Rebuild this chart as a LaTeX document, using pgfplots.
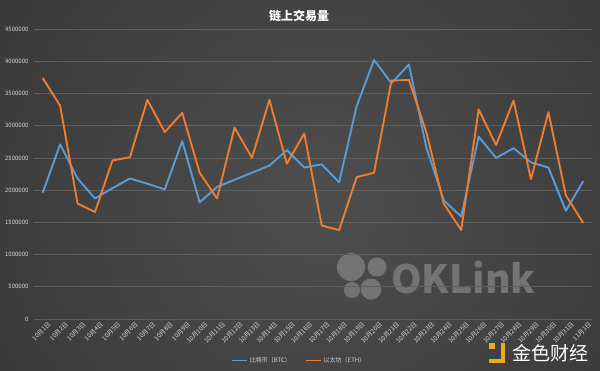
\documentclass[border=0pt]{standalone}
\usepackage{pgfplots}
\pgfplotsset{compat=1.18}
\usepackage{fontspec}
\setmainfont{Noto Sans CJK SC}
\definecolor{btc}{HTML}{5B9BD5}
\definecolor{eth}{HTML}{ED7D31}
\definecolor{bgin}{HTML}{4E4E4E}
\definecolor{bgout}{HTML}{262626}
\definecolor{gridc}{HTML}{5E5E5E}
\definecolor{txt}{HTML}{D6D6D6}
\definecolor{wm}{HTML}{747474}
\definecolor{gold}{HTML}{EBA91C}
\pgfplotstableread{
x btc eth
0 1960000 3740000
1 2710000 3310000
2 2180000 1790000
3 1870000 1660000
4 2030000 2460000
5 2180000 2510000
6 2100000 3400000
7 2010000 2900000
8 2760000 3200000
9 1810000 2270000
10 2050000 1870000
11 2160000 2970000
12 2270000 2500000
13 2380000 3400000
14 2620000 2410000
15 2350000 2880000
16 2400000 1450000
17 2120000 1380000
18 3300000 2200000
19 4020000 2270000
20 3660000 3700000
21 3950000 3710000
22 2660000 2900000
23 1840000 1790000
24 1590000 1380000
25 2830000 3250000
26 2500000 2700000
27 2650000 3390000
28 2430000 2170000
29 2350000 3210000
30 1680000 1920000
31 2140000 1490000
}\data
\begin{document}
\begin{tikzpicture}[x=1pt,y=1pt]
\useasboundingbox (0,0) rectangle (600,370);
\begin{scope}
\clip (0,0) rectangle (600,370);
\shade[inner color=bgin, outer color=bgout] (320,170) circle (720);
\end{scope}
% watermark
\fill[wm] (351,103) circle (14);
\fill[wm] (377,103) circle (9.5);
\fill[wm] (352,80) circle (8);
\fill[wm] (371,81) circle (10.5);
\node[anchor=west, text=wm, font=\fontsize{39}{39}\selectfont\bfseries, inner sep=0] at (391,92) {OKLink};
\begin{axis}[
  at={(34pt,51pt)}, anchor=south west,
  scale only axis, width=558pt, height=290pt,
  xmin=-0.5, xmax=31.5, ymin=0, ymax=4500000,
  ytick={0,500000,...,4500000},
  scaled y ticks=false,
  yticklabel style={/pgf/number format/fixed,/pgf/number format/1000 sep={}, font=\fontsize{6}{6}\selectfont, text=txt, xshift=-2pt},
  /pgf/number format/assume math mode=true,
  xtick=data,
  xticklabels={10月1日,10月2日,10月3日,10月4日,10月5日,10月6日,10月7日,10月8日,10月9日,10月10日,10月11日,10月12日,10月13日,10月14日,10月15日,10月16日,10月17日,10月18日,10月19日,10月20日,10月21日,10月22日,10月23日,10月24日,10月25日,10月26日,10月27日,10月28日,10月29日,10月30日,10月31日,11月1日},
  xticklabel style={rotate=45, anchor=north east, font=\fontsize{6.3}{6.3}\selectfont, text=txt, inner sep=1pt, yshift=-4pt, xshift=3pt},
  major tick length=0pt,
  axis line style={draw=none},
  ymajorgrids, grid style={gridc, line width=0.7pt},
  legend style={at={(0.475,-0.143)}, anchor=center, draw=none, fill=none, font=\fontsize{6}{6}\selectfont, legend columns=2, /tikz/every even column/.append style={column sep=12pt}},
  legend image code/.code={\draw[#1] (0pt,0pt) -- (15pt,0pt);},
]
\addplot[color=btc, draw=btc, line width=1.9pt, line join=round] table[x=x, y=btc] {\data};
\addlegendentry{\textcolor{txt}{比特币（BTC）}}
\addplot[color=eth, draw=eth, line width=1.9pt, line join=round] table[x=x, y=eth] {\data};
\addlegendentry{\textcolor{txt}{以太坊（ETH）}}
\end{axis}
\node[text=white, font=\fontsize{12}{12}\selectfont\bfseries] at (299,354) {链上交易量};
% logo bottom right
\fill[gold] (489,21) rectangle (495,27);
\fill[gold] (500.5,7) rectangle (505,27);
\fill[gold] (489,7) rectangle (505,11);
\node[anchor=west, text=white, font=\fontsize{19}{19}\selectfont, inner sep=0] at (512,17) {金色财经};
\end{tikzpicture}
\end{document}
